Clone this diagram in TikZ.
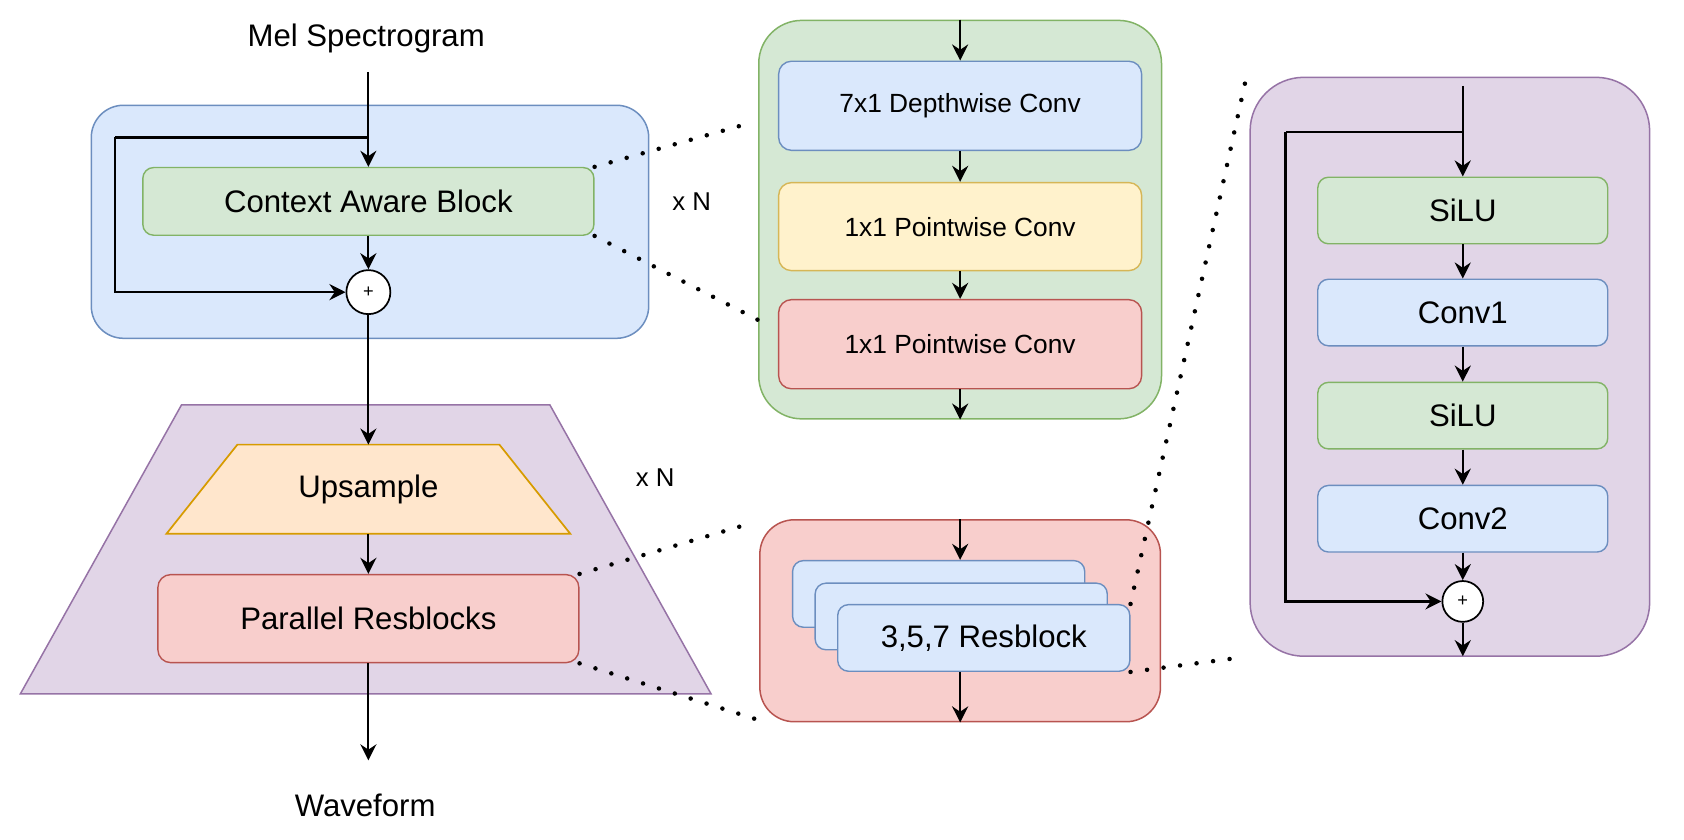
\documentclass[tikz,border=0pt]{standalone}
\usepackage{fontspec}
\setmainfont{Liberation Sans}
\usetikzlibrary{arrows.meta}
\definecolor{bluef}{HTML}{DAE8FC}\definecolor{blued}{HTML}{6C8EBF}
\definecolor{greenf}{HTML}{D5E8D4}\definecolor{greend}{HTML}{82B366}
\definecolor{yellowf}{HTML}{FFF2CC}\definecolor{yellowd}{HTML}{D6B656}
\definecolor{redf}{HTML}{F8CECC}\definecolor{redd}{HTML}{B85450}
\definecolor{purplef}{HTML}{E1D5E7}\definecolor{purpled}{HTML}{9673A6}
\definecolor{orangef}{HTML}{FFE6CC}\definecolor{oranged}{HTML}{D79B00}
\tikzset{
  box/.style={draw, line width=1.3pt, rounded corners=10pt, inner sep=0pt, font=\fontsize{29}{34}\selectfont},
  smallbox/.style={box, rounded corners=12pt, font=\fontsize{24.5}{29}\selectfont},
  cont/.style={draw, line width=1.4pt, inner sep=0pt},
  arr/.style={line width=2pt, -{Stealth[length=15pt,width=15pt,inset=5pt]}},
  conn/.style={line width=2pt},
  dots/.style={line width=4.2pt, line cap=round, dash pattern=on 0pt off 15.5pt},
  lbl/.style={font=\fontsize{29}{34}\selectfont, inner sep=0pt},
  xn/.style={font=\fontsize{24}{28}\selectfont, inner sep=0pt},
  plus/.style={circle, draw, fill=white, line width=1.6pt, minimum size=41pt, inner sep=0pt, font=\fontsize{17}{20}\selectfont},
}
\begin{document}
\begin{tikzpicture}[x=1pt,y=-1pt]
\useasboundingbox (0,0) rectangle (1568,782);

% ---------- left column ----------
\node[lbl] (mel) at (341,36) {Mel Spectrogram};
\coordinate (melin) at (343,67);
\node[cont, fill=bluef, draw=blued, rounded corners=30pt, minimum width=519pt, minimum height=217pt] (bluec) at (344.5,206.5) {};
\node[box, fill=greenf, draw=greend, minimum width=420pt, minimum height=63pt] (ctx) at (343,187.5) {Context Aware Block};
\node[plus] (p1) at (343,272) {+};
\coordinate (skA) at (343,128);
\coordinate (skL) at (107,128);
\draw[conn] (skA) -- (skL);
\draw[arr] (skL) |- (p1);
\draw[arr] (melin) -- (ctx);
\draw[arr] (ctx) -- (p1);

\path[fill=purplef, draw=purpled, line width=1.4pt] (169,377) -- (512,377) -- (662,646) -- (19,646) -- cycle;
\path[fill=orangef, draw=oranged, line width=1.6pt] (221,414) -- (465,414) -- (531,497) -- (155,497) -- cycle;
\node[lbl] (ups) at (343,456) {Upsample};
\coordinate (upsT) at (343,414);
\coordinate (upsB) at (343,497);
\draw[arr] (p1) -- (upsT);
\node[box, fill=redf, draw=redd, rounded corners=12pt, minimum width=392pt, minimum height=82pt] (prb) at (343,576) {Parallel Resblocks};
\draw[arr] (upsB) -- (prb);
\coordinate (wavein) at (343,708);
\draw[arr] (prb) -- (wavein);
\node[lbl] (wave) at (340,750) {Waveform};

\node[xn] (xn1) at (644,188) {x N};
\node[xn] (xn2) at (610,445) {x N};

% ---------- middle top ----------
\node[cont, fill=greenf, draw=greend, rounded corners=40pt, minimum width=375pt, minimum height=371pt] (gc) at (894,204.5) {};
\node[smallbox, fill=bluef, draw=blued, minimum width=338pt, minimum height=83pt] (dw) at (894,98.5) {7x1 Depthwise Conv};
\node[smallbox, fill=yellowf, draw=yellowd, minimum width=338pt, minimum height=82pt] (pw1) at (894,211) {1x1 Pointwise Conv};
\node[smallbox, fill=redf, draw=redd, minimum width=338pt, minimum height=83pt] (pw2) at (894,320.5) {1x1 Pointwise Conv};
\draw[arr] (gc.north) -- (dw);
\draw[arr] (dw) -- (pw1);
\draw[arr] (pw1) -- (pw2);
\draw[arr] (pw2) -- (gc.south);

% ---------- middle bottom ----------
\node[cont, fill=redf, draw=redd, rounded corners=32pt, minimum width=373pt, minimum height=188pt] (rc) at (894,578) {};
\node[box, fill=bluef, draw=blued, minimum width=272pt, minimum height=62pt] (rb1) at (874,553) {};
\node[box, fill=bluef, draw=blued, minimum width=272pt, minimum height=62pt] (rb2) at (895,574) {};
\node[box, fill=bluef, draw=blued, minimum width=272pt, minimum height=62pt] (rb3) at (916,594) {3,5,7 Resblock};
\draw[arr] (rc.north) -- (rc.north |- rb1.north);
\draw[arr] (rc.south |- rb3.south) -- (rc.south);

% ---------- right panel ----------
\node[cont, fill=purplef, draw=purpled, rounded corners=50pt, minimum width=372pt, minimum height=539pt] (pc) at (1350,341.5) {};
\coordinate (rtop) at (1362,80);
\node[box, fill=greenf, draw=greend, minimum width=270pt, minimum height=62pt] (s1) at (1362,196) {SiLU};
\node[box, fill=bluef, draw=blued, minimum width=270pt, minimum height=62pt] (c1) at (1362,291) {Conv1};
\node[box, fill=greenf, draw=greend, minimum width=270pt, minimum height=62pt] (s2) at (1362,387) {SiLU};
\node[box, fill=bluef, draw=blued, minimum width=270pt, minimum height=62pt] (c2) at (1362,483) {Conv2};
\node[plus, minimum size=38pt] (p2) at (1362,560) {+};
\coordinate (rbot) at (1362,611);
\coordinate (rskA) at (1362,123);
\coordinate (rskL) at (1197,123);
\draw[conn] (rskA) -- (rskL);
\draw[arr] (rskL) |- (p2);
\draw[arr] (rtop) -- (s1);
\draw[arr] (s1) -- (c1);
\draw[arr] (c1) -- (s2);
\draw[arr] (s2) -- (c2);
\draw[arr] (c2) -- (p2);
\draw[arr] (p2) -- (rbot);

% ---------- dotted zoom lines ----------
\coordinate (d1e) at (697,115);
\coordinate (d2e) at (706,298);
\coordinate (d3e) at (700,487);
\coordinate (d4e) at (705,670);
\coordinate (d5e) at (1160,74);
\coordinate (d6e) at (1157,612);
\draw[dots] (ctx.north east) -- (d1e);
\draw[dots] (ctx.south east) -- (d2e);
\draw[dots] (prb.north east) -- (d3e);
\draw[dots] (prb.south east) -- (d4e);
\draw[dots] (rb3.north east) -- (d5e);
\draw[dots] (rb3.south east) -- (d6e);
\end{tikzpicture}
\end{document}
